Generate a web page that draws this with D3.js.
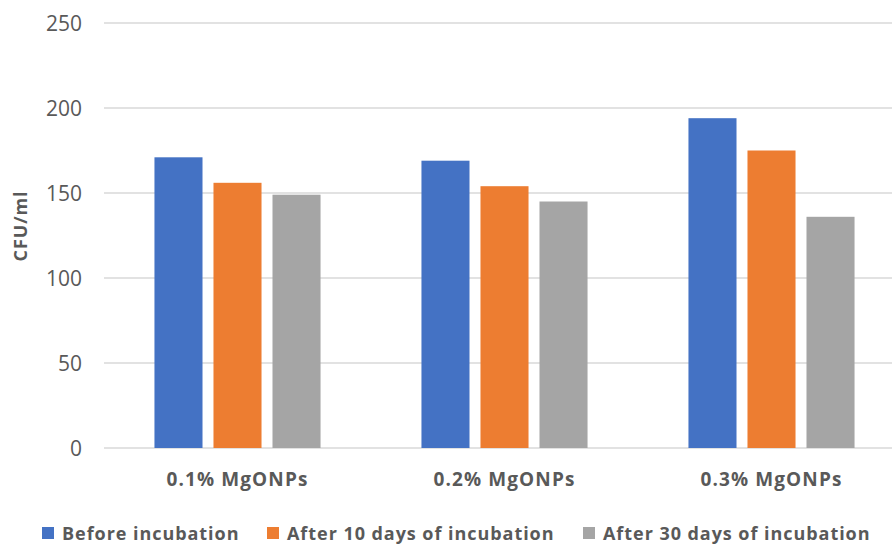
<!DOCTYPE html>
<html>
<head>
<meta charset="utf-8">
<script src="https://cdn.jsdelivr.net/npm/d3@7"></script>
<style>
  html, body { margin: 0; padding: 0; background: #ffffff; }
  svg { display: block; }
  text { font-family: "Open Sans", Lato, sans-serif; }
</style>
</head>
<body>
<svg id="chart" width="892" height="545"></svg>
<script>
// Categories, series and axis ticks
const categories = ["0.1% MgONPs", "0.2% MgONPs", "0.3% MgONPs"];
const seriesNames = ["Before incubation", "After 10 days of incubation", "After 30 days of incubation"];
const beforeIncubation = [171, 169, 194];
const after10Days = [156, 154, 175];
const after30Days = [149, 145, 136];
const yTicks = [0, 50, 100, 150, 200, 250];
const seriesColors = ["#4472C4", "#ED7D31", "#A5A5A5"];

const seriesValues = [beforeIncubation, after10Days, after30Days];
const rows = categories.map((c, i) => ({
  category: c,
  values: seriesNames.map((s, j) => ({ series: s, value: seriesValues[j][i] }))
}));

const svg = d3.select("#chart");
const W = 892;
const plot = { left: 104, right: 905, top: 23, bottom: 448 };

const y = d3.scaleLinear().domain([0, 250]).range([plot.bottom, plot.top]);
const x0 = d3.scaleBand().domain(categories).range([plot.left, plot.right]).padding(0);
const x1 = d3.scaleBand().domain(seriesNames).range([0, x0.bandwidth()])
  .paddingInner(0.186).paddingOuter(0.855);

// Horizontal gridlines
svg.append("g")
  .selectAll("line")
  .data(yTicks)
  .join("line")
  .attr("x1", plot.left)
  .attr("x2", W)
  .attr("y1", d => y(d))
  .attr("y2", d => y(d))
  .attr("stroke", "#d9d9d9")
  .attr("stroke-width", 1.6);

// Y axis labels
const yAxis = d3.axisLeft(y).tickValues(yTicks).tickSize(0).tickPadding(0);
const gy = svg.append("g").attr("transform", "translate(82,0)").call(yAxis);
gy.select(".domain").remove();
gy.selectAll("text")
  .attr("font-family", "Lato, sans-serif")
  .attr("font-size", 21)
  .attr("fill", "#595959")
  .attr("dy", "0.36em");

// Bars
const groups = svg.append("g")
  .selectAll("g")
  .data(rows)
  .join("g")
  .attr("transform", d => `translate(${x0(d.category)},0)`);

groups.selectAll("rect")
  .data(d => d.values)
  .join("rect")
  .attr("x", d => x1(d.series))
  .attr("width", x1.bandwidth())
  .attr("y", d => y(d.value))
  .attr("height", d => y(0) - y(d.value))
  .attr("fill", (d, i) => seriesColors[i]);

// Category labels
const xAxis = d3.axisBottom(x0).tickSize(0).tickPadding(0);
const gx = svg.append("g").attr("transform", `translate(0,486)`).call(xAxis);
gx.select(".domain").remove();
gx.selectAll("text")
  .attr("font-family", "'Open Sans', sans-serif")
  .attr("font-size", 19)
  .attr("font-weight", "bold")
  .attr("letter-spacing", 1.1)
  .attr("fill", "#595959")
  .attr("dy", 0);

// Y axis title
svg.append("text")
  .attr("transform", "translate(27,226) rotate(-90)")
  .attr("text-anchor", "middle")
  .attr("font-size", 18)
  .attr("font-weight", "bold")
  .attr("letter-spacing", 0.9)
  .attr("fill", "#595959")
  .text("CFU/ml");

// Legend
const legendX = [42, 267, 583];
const legend = svg.append("g")
  .selectAll("g")
  .data(seriesNames)
  .join("g")
  .attr("transform", (d, i) => `translate(${legendX[i]},527)`);
legend.append("rect")
  .attr("width", 12)
  .attr("height", 12)
  .attr("fill", (d, i) => seriesColors[i]);
legend.append("text")
  .attr("x", 20)
  .attr("y", 12.5)
  .attr("font-size", 18)
  .attr("font-weight", "bold")
  .attr("letter-spacing", 0.95)
  .attr("fill", "#595959")
  .text(d => d);
</script>
</body>
</html>
